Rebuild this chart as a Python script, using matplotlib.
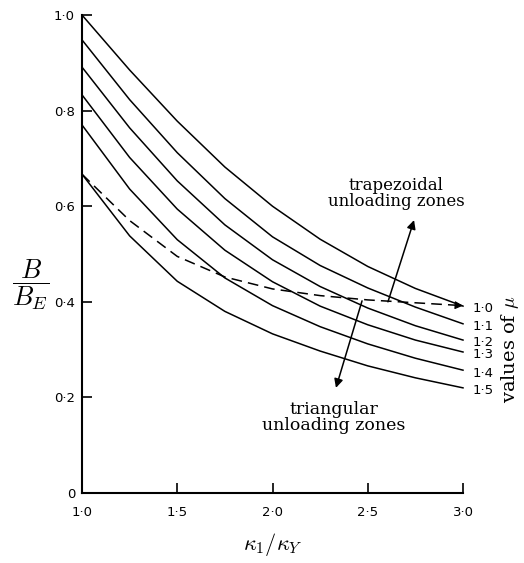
import numpy as np
import matplotlib.pyplot as plt

plt.rcParams['mathtext.fontset'] = 'cm'

# kappa_1 / kappa_Y
kappa = [1.0, 1.25, 1.5, 1.75, 2.0, 2.25, 2.5, 2.75, 3.0]

# B / B_E for each value of mu
mu_labels = ['1·0', '1·1', '1·2', '1·3', '1·4', '1·5']
b_mu10 = [1.000, 0.885, 0.778, 0.682, 0.600, 0.531, 0.474, 0.428, 0.391]
b_mu11 = [0.948, 0.823, 0.712, 0.616, 0.536, 0.476, 0.429, 0.389, 0.354]
b_mu12 = [0.891, 0.764, 0.653, 0.561, 0.488, 0.432, 0.387, 0.350, 0.320]
b_mu13 = [0.833, 0.702, 0.594, 0.508, 0.442, 0.391, 0.352, 0.320, 0.295]
b_mu14 = [0.770, 0.636, 0.530, 0.450, 0.392, 0.348, 0.312, 0.282, 0.257]
b_mu15 = [0.667, 0.538, 0.443, 0.380, 0.333, 0.297, 0.266, 0.241, 0.220]
curves = [b_mu10, b_mu11, b_mu12, b_mu13, b_mu14, b_mu15]

# boundary between triangular and trapezoidal unloading zones
b_boundary = [0.667, 0.570, 0.495, 0.452, 0.427, 0.413, 0.404, 0.398, 0.392]

xticks = [1.0, 1.5, 2.0, 2.5, 3.0]
xtick_labels = ['1·0', '1·5', '2·0', '2·5', '3·0']
yticks = [0.0, 0.2, 0.4, 0.6, 0.8, 1.0]
ytick_labels = ['0', '0·2', '0·4', '0·6', '0·8', '1·0']

fig = plt.figure(figsize=(5.24, 5.63), dpi=100)
ax = fig.add_axes([0.1565, 0.1243, 0.7271, 0.849])

for b in curves:
    ax.plot(kappa, b, color='black', lw=1.1, clip_on=False)

ax.plot(kappa, b_boundary, color='black', lw=1.1, ls=(0, (7, 4)), clip_on=False)
# arrow head at the end of the dashed line
x0, y0 = kappa[-2], b_boundary[-2]
x1, y1 = kappa[-1], b_boundary[-1]
ax.annotate('', xy=(x1, y1), xytext=(x1 - 0.08 * (x1 - x0), y1 - 0.08 * (y1 - y0)),
            arrowprops=dict(arrowstyle='-|>', color='black', lw=0.8,
                            mutation_scale=12, shrinkA=0, shrinkB=0),
            annotation_clip=False)

# labels for mu at the right end
for lab, b in zip(mu_labels, curves):
    ax.text(3.05, b[-1] - 0.006, lab, fontsize=9.5, va='center', ha='left')

ax.text(3.245, 0.30, r'values of $\mu$', rotation=90, fontsize=14,
        family='DejaVu Serif', va='center', ha='center')

# zone annotations
arrow = dict(arrowstyle='-|>', color='black', lw=1.1, mutation_scale=13,
             shrinkA=0, shrinkB=0)
ax.annotate('', xy=(2.743, 0.571), xytext=(2.606, 0.400), arrowprops=arrow)
ax.annotate('', xy=(2.333, 0.220), xytext=(2.470, 0.402), arrowprops=arrow)
ax.text(2.65, 0.627, 'trapezoidal\nunloading zones', fontsize=12,
        family='DejaVu Serif', ha='center', va='center', linespacing=0.95)
ax.text(2.32, 0.158, 'triangular\nunloading zones', fontsize=12.5,
        family='DejaVu Serif', ha='center', va='center', linespacing=0.95)

ax.set_xlim(1.0, 3.0)
ax.set_ylim(0.0, 1.0)
ax.set_xticks(xticks)
ax.set_xticklabels(xtick_labels, fontsize=9.5)
ax.set_yticks(yticks)
ax.set_yticklabels(ytick_labels, fontsize=9.5)
ax.tick_params(direction='in', length=7, width=1.2, pad=5)
ax.tick_params(axis='x', pad=9)
ax.spines['top'].set_visible(False)
ax.spines['right'].set_visible(False)
for s in ['left', 'bottom']:
    ax.spines[s].set_linewidth(1.5)

ax.set_xlabel(r'$\kappa_1/\kappa_Y$', fontsize=16, labelpad=9)
ax.text(-0.135, 0.437, r'$\dfrac{B}{B_E}$', fontsize=19, ha='center', va='center',
        transform=ax.get_yaxis_transform())

fig.savefig('out.png', dpi=100)
